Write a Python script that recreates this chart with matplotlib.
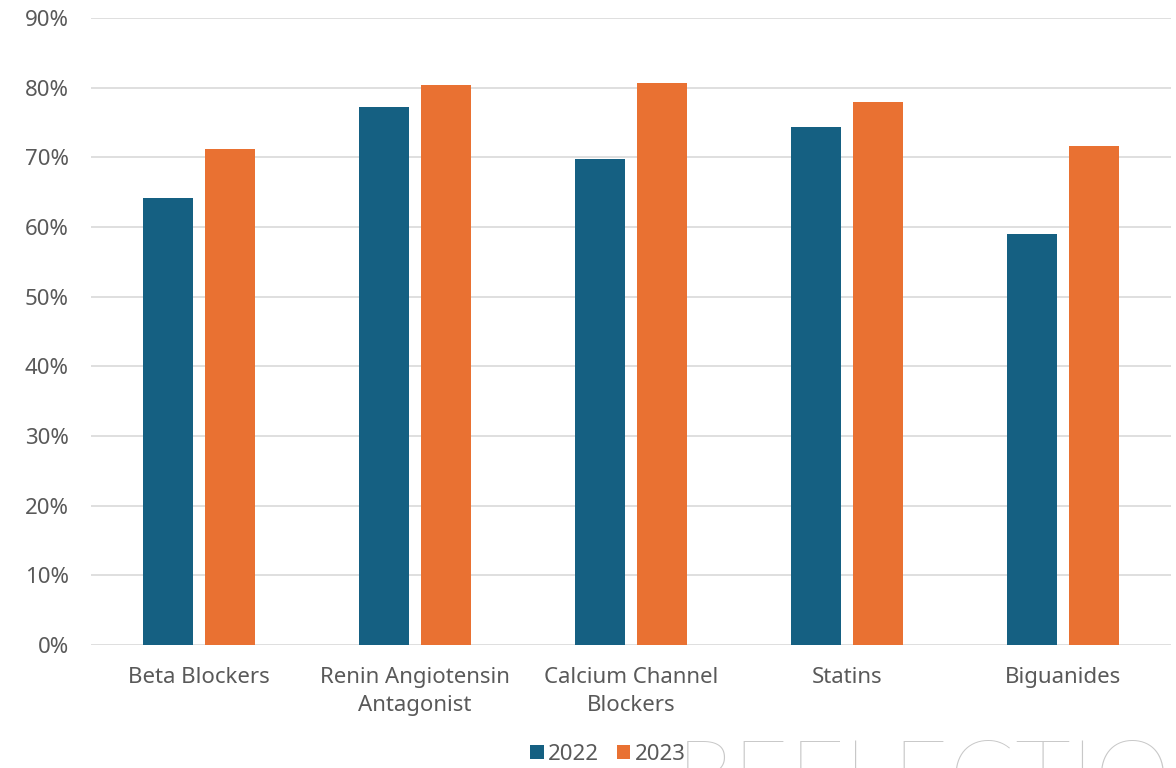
import numpy as np
import matplotlib
matplotlib.use("Agg")
import matplotlib.pyplot as plt
from matplotlib.ticker import FuncFormatter

categories = ["Beta Blockers", "Renin Angiotensin\nAntagonist", "Calcium Channel\nBlockers", "Statins", "Biguanides"]
vals_2022 = [64.2, 77.2, 69.8, 74.4, 59.0]
vals_2023 = [71.2, 80.4, 80.7, 77.9, 71.6]

blue = "#156082"
orange = "#E97132"
txt = "#595959"

plt.rcParams['font.family'] = ['Noto Sans', 'DejaVu Sans']

fig = plt.figure(figsize=(11.76, 7.68), dpi=100)
ax = fig.add_axes([91/1176, 1 - 645/768, 1080/1176, 627/768])

x = np.arange(len(categories))
w = 0.227
off = 0.1435
ax.bar(x - off, vals_2022, w, color=blue, label="2022", zorder=3)
ax.bar(x + off, vals_2023, w, color=orange, label="2023", zorder=3)

ax.set_xlim(-0.5, len(categories) - 0.5)
ax.set_ylim(0, 90)
ax.set_yticks(np.arange(0, 91, 10))
ax.yaxis.set_major_formatter(FuncFormatter(lambda v, p: f"{v:.0f}%"))
ax.set_xticks(x)
ax.set_xticklabels(categories, fontsize=16, color=txt, linespacing=1.45)
ax.tick_params(axis='y', labelsize=16, labelcolor=txt, length=0, pad=16)
ax.tick_params(axis='x', length=0, pad=16)
ax.grid(axis='y', color="#d9d9d9", linewidth=1.2, zorder=0)
for s in ax.spines.values():
    s.set_visible(False)

# watermark
fig.text(676/1176, -0.074, "REFLECTIO", fontsize=70, color="#c8c8c8",
         family=['Lato', 'DejaVu Sans'], fontweight='light', ha='left', va='bottom')

leg = fig.legend(loc='lower center', bbox_to_anchor=(0.517, -0.022), ncol=2, frameon=False,
                 fontsize=16, handlelength=0.6, handleheight=0.6, handletextpad=0.2,
                 columnspacing=0.8, labelcolor=txt)

fig.savefig("out.png", dpi=100)
